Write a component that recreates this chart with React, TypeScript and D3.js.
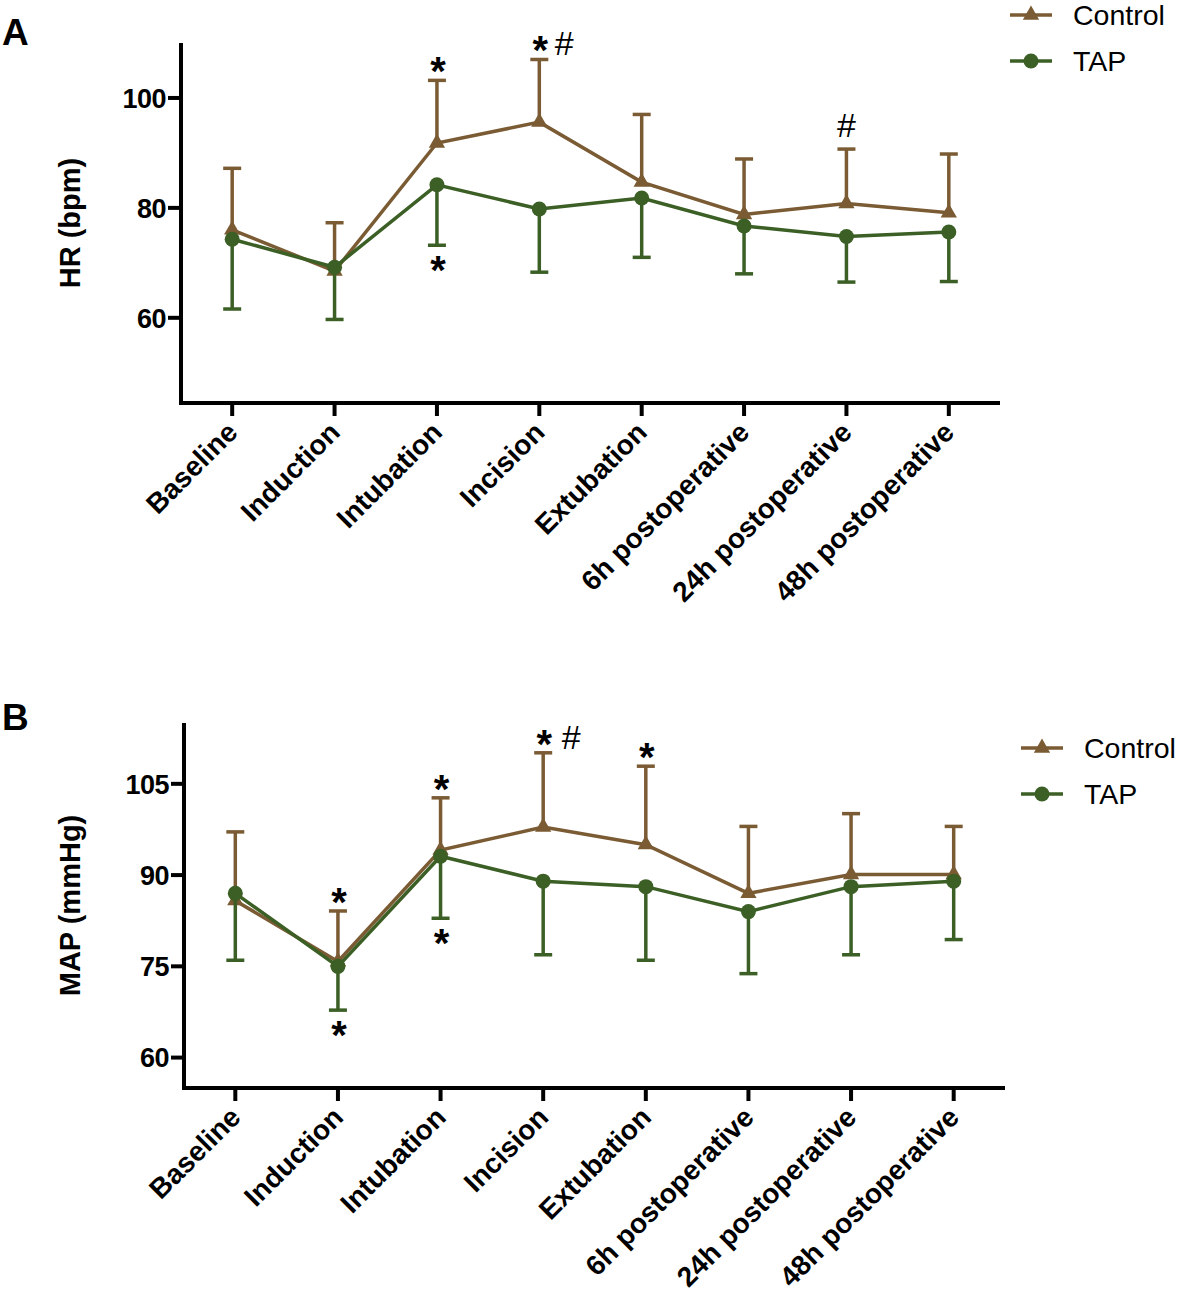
import React, { useEffect } from 'react'
import * as d3 from 'd3'

// time points shared by both panels
const timePoints = ['Baseline', 'Induction', 'Intubation', 'Incision', 'Extubation', '6h postoperative', '24h postoperative', '48h postoperative']

// HR (bpm): mean and SD bar ends
const hrControl = [76.0, 68.5, 91.8, 95.6, 84.7, 78.8, 80.8, 79.1]
const hrControlUpper = [87.2, 77.3, 103.2, 107.0, 97.0, 88.9, 90.7, 89.8]
const hrTap = [74.3, 69.2, 84.2, 79.8, 81.8, 76.7, 74.8, 75.6]
const hrTapLower = [61.6, 59.7, 73.2, 68.3, 71.0, 68.0, 66.5, 66.6]
const hrTicks = [60, 80, 100]
const hrDomain = [44.5, 110]

// MAP (mmHg)
const mapControl = [85.8, 75.8, 94.1, 97.9, 95.0, 87.0, 90.1, 90.1]
const mapControlUpper = [97.1, 84.1, 102.7, 110.1, 107.9, 98.0, 100.1, 98.0]
const mapTap = [87.0, 75.0, 93.1, 89.0, 88.1, 84.0, 88.1, 89.0]
const mapTapLower = [76.0, 67.8, 82.9, 76.9, 76.0, 73.8, 76.9, 79.4]
const mapTicks = [60, 75, 90, 105]
const mapDomain = [55, 115]

// significance marks: index, which bar, marks
const hrMarks = [
  { i: 2, side: 'control', text: '*' },
  { i: 2, side: 'tap', text: '*' },
  { i: 3, side: 'control', text: '*#' },
  { i: 6, side: 'control', text: '#' },
]
const mapMarks = [
  { i: 1, side: 'control', text: '*' },
  { i: 1, side: 'tap', text: '*' },
  { i: 2, side: 'control', text: '*' },
  { i: 2, side: 'tap', text: '*' },
  { i: 3, side: 'control', text: '*#' },
  { i: 4, side: 'control', text: '*' },
]

const BROWN = '#7a5b33'
const GREEN = '#3b5f25'
const FONT = 'Liberation Sans, Arial, Helvetica, sans-serif'

const triPath = d3.symbol(d3.symbolTriangle, 115)() as string

function Legend({ x, y }: { x: number; y: number }) {
  const rows = [
    { label: 'Control', color: BROWN, tri: true },
    { label: 'TAP', color: GREEN, tri: false },
  ]
  return (
    <g>
      {rows.map((r, k) => {
        const cy = y + k * 46
        return (
          <g key={r.label}>
            <line x1={x} x2={x + 42} y1={cy} y2={cy} stroke={r.color} strokeWidth={3.5} />
            {r.tri
              ? <path d={triPath} transform={`translate(${x + 21},${cy})`} fill={r.color} />
              : <circle cx={x + 21} cy={cy} r={7.5} fill={r.color} />}
            <text x={x + 63} y={cy + 10} fontSize={28.5} fontFamily={FONT} fill="#000">{r.label}</text>
          </g>
        )
      })}
    </g>
  )
}

function Panel(props: any) {
  const { left, right, top, bottom, domain, ticks, control, controlUpper, tap, tapLower, marks, title, letter, letterY, hashGap } = props
  const x = d3.scalePoint<string>().domain(timePoints).range([left, right]).padding(0.5)
  const y = d3.scaleLinear().domain(domain).range([bottom, top])
  const line = d3.line<number>().x((_, i) => x(timePoints[i]) as number).y(d => y(d))
  const cap = 9

  return (
    <g fontFamily={FONT}>
      <text x={2} y={letterY} fontSize={37} fontWeight="bold">{letter}</text>

      {/* axes */}
      <path d={`M${left},${top}V${bottom}H${right}`} fill="none" stroke="#000" strokeWidth={4} />
      {ticks.map((t: number) => (
        <g key={t}>
          <line x1={left - 13} x2={left} y1={y(t)} y2={y(t)} stroke="#000" strokeWidth={4} />
          <text x={left - 15} y={y(t)} dy="0.36em" textAnchor="end" fontSize={27} fontWeight="bold" letterSpacing={-0.5}>{t}</text>
        </g>
      ))}
      {timePoints.map(tp => {
        const tx = x(tp) as number
        return (
          <g key={tp}>
            <line x1={tx} x2={tx} y1={bottom} y2={bottom + 13} stroke="#000" strokeWidth={4} />
            <text transform={`translate(${tx + 7},${bottom + 31}) rotate(-45)`} textAnchor="end" fontSize={28} fontWeight="bold">{tp}</text>
          </g>
        )
      })}
      <text transform={`translate(80,${(top + bottom) / 2}) rotate(-90)`} textAnchor="middle" fontSize={29} fontWeight="bold">{title}</text>

      {/* control */}
      {control.map((v: number, i: number) => {
        const tx = x(timePoints[i]) as number
        return (
          <g key={'ce' + i} stroke={BROWN} strokeWidth={3.5}>
            <line x1={tx} x2={tx} y1={y(v)} y2={y(controlUpper[i])} />
            <line x1={tx - cap} x2={tx + cap} y1={y(controlUpper[i])} y2={y(controlUpper[i])} />
          </g>
        )
      })}
      <path d={line(control) as string} fill="none" stroke={BROWN} strokeWidth={3.5} />
      {control.map((v: number, i: number) => (
        <path key={'ct' + i} d={triPath} transform={`translate(${x(timePoints[i])},${y(v)})`} fill={BROWN} />
      ))}

      {/* TAP */}
      {tap.map((v: number, i: number) => {
        const tx = x(timePoints[i]) as number
        return (
          <g key={'te' + i} stroke={GREEN} strokeWidth={3.5}>
            <line x1={tx} x2={tx} y1={y(v)} y2={y(tapLower[i])} />
            <line x1={tx - cap} x2={tx + cap} y1={y(tapLower[i])} y2={y(tapLower[i])} />
          </g>
        )
      })}
      <path d={line(tap) as string} fill="none" stroke={GREEN} strokeWidth={3.5} />
      {tap.map((v: number, i: number) => (
        <circle key={'tc' + i} cx={x(timePoints[i]) as number} cy={y(v)} r={7.5} fill={GREEN} />
      ))}

      {/* significance */}
      {marks.map((m: any, k: number) => {
        const tx = x(timePoints[m.i]) as number
        const capY = m.side === 'control' ? y(controlUpper[m.i]) : y(tapLower[m.i])
        if (m.text === '#') {
          return <text key={k} x={tx} y={capY - 12} textAnchor="middle" fontSize={34}>#</text>
        }
        const starY = m.side === 'control' ? capY + 5 : capY + 39
        return (
          <g key={k}>
            <text x={tx + 1} y={starY} textAnchor="middle" fontSize={40} fontWeight="bold">*</text>
            {m.text === '*#' && <text x={tx + hashGap} y={capY - 4} textAnchor="middle" fontSize={34}>#</text>}
          </g>
        )
      })}
    </g>
  )
}

export default function App() {
  useEffect(() => { document.body.style.margin = '0' }, [])
  return (
    <svg width={1181} height={1295} style={{ display: 'block', background: '#fff' }}>
      <Panel left={181} right={1000} top={43} bottom={403} domain={hrDomain} ticks={hrTicks}
        control={hrControl} controlUpper={hrControlUpper} tap={hrTap} tapLower={hrTapLower}
        marks={hrMarks} title="HR (bpm)" letter="A" letterY={45} hashGap={25} />
      <Legend x={1010} y={15} />
      <Panel left={184} right={1005} top={723} bottom={1088} domain={mapDomain} ticks={mapTicks}
        control={mapControl} controlUpper={mapControlUpper} tap={mapTap} tapLower={mapTapLower}
        marks={mapMarks} title="MAP (mmHg)" letter="B" letterY={730} hashGap={28} />
      <Legend x={1021} y={748} />
    </svg>
  )
}
